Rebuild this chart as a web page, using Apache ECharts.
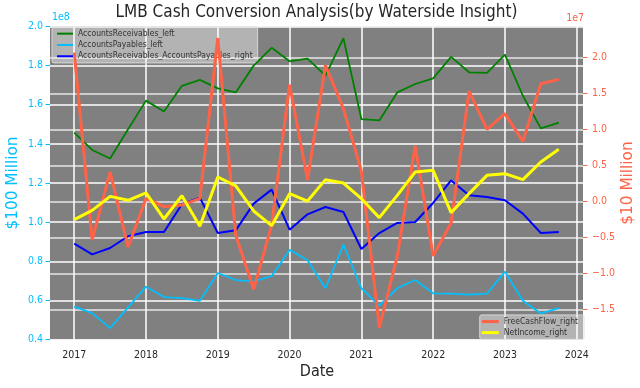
<!DOCTYPE html>
<html><head><meta charset="utf-8">
<script src="https://cdn.jsdelivr.net/npm/echarts@6/dist/echarts.min.js"></script>
<style>html,body{margin:0;padding:0;background:#fff}#c{width:640px;height:388px}</style>
</head><body><div id="c"></div>
<script>
// Quarterly dates
const dates = ['2017-01-01','2017-04-01','2017-07-01','2017-10-01','2018-01-01','2018-04-01','2018-07-01','2018-10-01',
  '2019-01-01','2019-04-01','2019-07-01','2019-10-01','2020-01-01','2020-04-01','2020-07-01','2020-10-01',
  '2021-01-01','2021-04-01','2021-07-01','2021-10-01','2022-01-01','2022-04-01','2022-07-01','2022-10-01',
  '2023-01-01','2023-04-01','2023-07-01','2023-10-01'];
// left axis, units of 1e8
const accountsReceivables = [1.458,1.369,1.325,1.475,1.621,1.566,1.697,1.727,1.684,1.663,1.800,1.891,1.822,1.836,1.749,1.940,1.527,1.520,1.663,1.706,1.735,1.845,1.766,1.763,1.856,1.646,1.479,1.509];
const accountsPayables = [0.568,0.535,0.458,0.564,0.670,0.617,0.612,0.598,0.740,0.704,0.697,0.724,0.858,0.805,0.662,0.885,0.662,0.573,0.662,0.704,0.636,0.634,0.629,0.634,0.747,0.598,0.533,0.560];
// right axis, units of 1e7
const arMinusAp = [-0.588,-0.736,-0.648,-0.485,-0.426,-0.426,-0.040,0.051,-0.440,-0.403,-0.032,0.162,-0.394,-0.181,-0.079,-0.148,-0.662,-0.440,-0.301,-0.287,-0.023,0.290,0.083,0.060,0.014,-0.171,-0.440,-0.426];
const freeCashFlow = [2.065,-0.535,0.410,-0.635,0.040,-0.075,-0.050,0.037,2.268,-0.470,-1.220,-0.330,1.620,0.300,1.889,1.287,0.420,-1.754,-0.764,0.770,-0.757,-0.300,1.530,1.000,1.218,0.833,1.634,1.694];
const netIncome = [-0.254,-0.125,0.069,0.014,0.116,-0.245,0.079,-0.347,0.338,0.215,-0.134,-0.338,0.107,0.004,0.301,0.254,0.037,-0.226,0.083,0.407,0.430,-0.157,0.107,0.361,0.384,0.301,0.546,0.722];
// tick labels
const xTicks = [2017,2018,2019,2020,2021,2022,2023,2024];
const leftTicks = [0.4,0.6,0.8,1.0,1.2,1.4,1.6,1.8,2.0];
const rightTicks = [-1.5,-1.0,-0.5,0.0,0.5,1.0,1.5,2.0];

const FONT = "'DejaVu Sans Condensed','DejaVu Sans',sans-serif";
const LBLUE = '#00bfff', TOMATO = '#ff6347';
function toYear(d){const p=d.split('-').map(Number);return p[0]+(p[1]-1)/12+(p[2]-1)/365;}
const xs = dates.map(toYear);
const pts = arr => arr.map((v,i)=>[xs[i],v]);

const chart = echarts.init(document.getElementById('c'), null, {renderer:'canvas'});
chart.setOption({
  animation:false,
  backgroundColor:'#ffffff',
  grid:{left:50,right:57,top:26.5,bottom:48.5,show:true,backgroundColor:'#808080',borderWidth:0,containLabel:false},
  xAxis:{type:'value',min:2016.6625,max:2024.0875,
    axisLine:{show:false},
    axisTick:{show:false,customValues:xTicks},
    axisLabel:{customValues:xTicks,formatter:v=>String(Math.round(v)),color:'#262626',fontFamily:FONT,fontSize:10.5,margin:10},
    splitLine:{show:true,lineStyle:{color:'#ffffff',width:1.5}}},
  yAxis:[
    {type:'value',position:'left',min:0.4,max:2.0,interval:0.2,
      axisLine:{show:false},
      axisTick:{show:true,length:4.5,lineStyle:{color:LBLUE,width:1}},
      axisLabel:{formatter:v=>v.toFixed(1),color:LBLUE,fontFamily:FONT,fontSize:10.5,margin:7},
      splitLine:{show:true,lineStyle:{color:'#ffffff',width:1.5}}},
    {type:'value',position:'right',min:-1.919,max:2.428,
      axisLine:{show:false},
      axisTick:{show:true,length:4.5,customValues:rightTicks,lineStyle:{color:TOMATO,width:1}},
      axisLabel:{customValues:rightTicks,formatter:v=>(v<0?'\u2212':'')+Math.abs(v).toFixed(1),color:TOMATO,fontFamily:FONT,fontSize:10.5,margin:9},
      splitLine:{show:true,lineStyle:{color:'rgba(255,255,255,0.8)',width:1.5}}}
  ],
  legend:[
    {orient:'vertical',left:52,top:27,z:1,padding:[1,5,1,5],itemGap:0,itemWidth:16,itemHeight:2,icon:'rect',
      backgroundColor:'rgba(255,255,255,0.4)',borderColor:'rgba(220,220,220,0.9)',borderWidth:1,borderRadius:2,
      textStyle:{color:'#333333',fontFamily:FONT,fontSize:8.5,lineHeight:11.3},
      data:['AccountsReceivables_left','AccountsPayables_left','AccountsReceivables_AccountsPayables_right']},
    {orient:'vertical',right:56,bottom:48.7,padding:[1.2,6,1.2,2],itemGap:0,itemWidth:17,itemHeight:3,icon:'rect',
      backgroundColor:'rgba(255,255,255,0.4)',borderColor:'rgba(220,220,220,0.9)',borderWidth:1,borderRadius:2,
      textStyle:{color:'#333333',fontFamily:FONT,fontSize:8.5,lineHeight:11},
      data:['FreeCashFlow_right','NetIncome_right']}
  ],
  graphic:[
    {type:'text',z:10,style:{text:'LMB Cash Conversion Analysis(by Waterside Insight)',x:316.5,y:12.5,align:'center',verticalAlign:'middle',fill:'#262626',font:'17px '+FONT}},
    {type:'text',style:{text:'1e8',x:52,y:17,align:'left',verticalAlign:'middle',fill:LBLUE,font:'10.5px '+FONT}},
    {type:'text',style:{text:'1e7',x:584,y:18,align:'right',verticalAlign:'middle',fill:TOMATO,font:'10.5px '+FONT}},
    {type:'text',rotation:Math.PI/2,x:13,y:183,style:{text:'$100 Million',x:0,y:0,align:'center',verticalAlign:'middle',fill:LBLUE,font:"15.3px 'DejaVu Sans',sans-serif"}},
    {type:'text',rotation:Math.PI/2,x:628,y:183,style:{text:'$10 Million',x:0,y:0,align:'center',verticalAlign:'middle',fill:TOMATO,font:"15.3px 'DejaVu Sans',sans-serif"}},
    {type:'text',style:{text:'Date',x:317,y:372,align:'center',verticalAlign:'middle',fill:'#262626',font:'16px '+FONT}}
  ],
  series:[
    {name:'AccountsReceivables_left',type:'line',yAxisIndex:0,data:pts(accountsReceivables),showSymbol:false,symbol:'none',lineStyle:{color:'#008000',width:1.8},itemStyle:{color:'#008000'},z:2},
    {name:'AccountsPayables_left',type:'line',yAxisIndex:0,data:pts(accountsPayables),showSymbol:false,symbol:'none',lineStyle:{color:LBLUE,width:1.8},itemStyle:{color:LBLUE},z:2},
    {name:'AccountsReceivables_AccountsPayables_right',type:'line',yAxisIndex:1,data:pts(arMinusAp),showSymbol:false,symbol:'none',lineStyle:{color:'#0000ff',width:2},itemStyle:{color:'#0000ff'},z:3},
    {name:'FreeCashFlow_right',type:'line',yAxisIndex:1,data:pts(freeCashFlow),showSymbol:false,symbol:'none',lineStyle:{color:TOMATO,width:3},itemStyle:{color:TOMATO},z:3},
    {name:'NetIncome_right',type:'line',yAxisIndex:1,data:pts(netIncome),showSymbol:false,symbol:'none',lineStyle:{color:'#ffff00',width:3},itemStyle:{color:'#ffff00'},z:3}
  ]
});
</script></body></html>
